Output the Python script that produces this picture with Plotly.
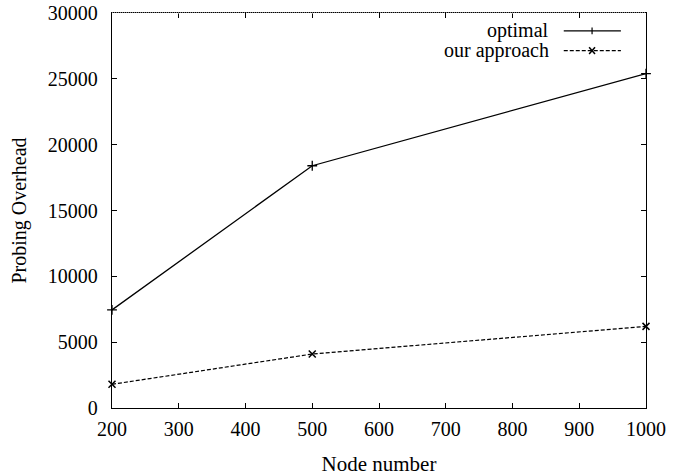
import plotly.graph_objects as go

nodes = [200, 500, 1000]
optimal = [7450, 18400, 25400]
our_approach = [1800, 4100, 6200]
x_ticks = [200, 300, 400, 500, 600, 700, 800, 900, 1000]
y_ticks = [0, 5000, 10000, 15000, 20000, 25000, 30000]
y_tick_text = ["0", "5000", "10000", "15000", "20000", "25000", "30000"]
series_names = ["optimal", "our approach"]

FONT = "Liberation Serif, Times New Roman, serif"

fig = go.Figure()
fig.add_trace(go.Scatter(
    x=nodes, y=optimal, mode="lines+markers", name=series_names[0],
    line=dict(color="black", width=1.3),
    marker=dict(symbol="cross-thin", size=7, line=dict(color="black", width=1.3)),
    showlegend=False, cliponaxis=False,
))
fig.add_trace(go.Scatter(
    x=nodes, y=our_approach, mode="lines+markers", name=series_names[1],
    line=dict(color="black", width=1.2, dash="4px,2px"),
    marker=dict(symbol="x-thin", size=7, line=dict(color="black", width=1.5)),
    showlegend=False, cliponaxis=False,
))

# Manual gnuplot-style legend (text right-aligned, sample to the right)
legend_rows = [(0.955, "solid", "+"), (0.905, "4px,2px", "x")]
for (yp, dash, sym), name in zip(legend_rows, series_names):
    fig.add_annotation(x=0.822, y=yp, xref="paper", yref="paper", text=name,
                       showarrow=False, xanchor="right", yanchor="middle",
                       font=dict(family=FONT, size=20, color="black"))
    fig.add_shape(type="line", xref="paper", yref="paper",
                  x0=0.846, x1=0.953, y0=yp, y1=yp,
                  line=dict(color="black", width=1.2, dash=dash))
    cx, cy = 0.899, yp
    dx, dy = 0.0055, 0.0085
    if sym == "+":
        fig.add_shape(type="line", xref="paper", yref="paper",
                      x0=cx, x1=cx, y0=cy - dy, y1=cy + dy,
                      line=dict(color="black", width=1.2))
    else:
        fig.add_shape(type="line", xref="paper", yref="paper",
                      x0=cx - dx, x1=cx + dx, y0=cy - dy, y1=cy + dy,
                      line=dict(color="black", width=1.5))
        fig.add_shape(type="line", xref="paper", yref="paper",
                      x0=cx - dx, x1=cx + dx, y0=cy + dy, y1=cy - dy,
                      line=dict(color="black", width=1.5))

# dotted look of the top border
fig.add_shape(type="line", xref="paper", yref="paper", x0=0, x1=1, y0=1, y1=1,
              line=dict(color="white", width=1, dash="1px,1px"), layer="above")

axis_common = dict(
    showgrid=False, zeroline=False, showline=True, linecolor="black", linewidth=1.3,
    mirror="allticks", ticks="inside", ticklen=5, tickwidth=1, tickcolor="black",
    tickfont=dict(family=FONT, size=20, color="black"), automargin=False,
    ticklabeloverflow="allow",
)

fig.update_layout(
    width=690, height=476,
    margin=dict(l=112, r=44, t=13, b=68),
    paper_bgcolor="white", plot_bgcolor="white",
    xaxis=dict(range=[200, 1000], tickvals=x_ticks, ticklabelstandoff=3,
               title=dict(text="Node number", font=dict(family=FONT, size=21, color="black"), standoff=18),
               **axis_common),
    yaxis=dict(range=[0, 30000], tickvals=y_ticks, ticktext=y_tick_text, ticklabelstandoff=9,
               title=dict(text="Probing Overhead", font=dict(family=FONT, size=20, color="black"), standoff=15),
               **axis_common),
)

fig.write_html("out.html", config={"displayModeBar": False},
               post_script="document.body.style.margin='0px';")
